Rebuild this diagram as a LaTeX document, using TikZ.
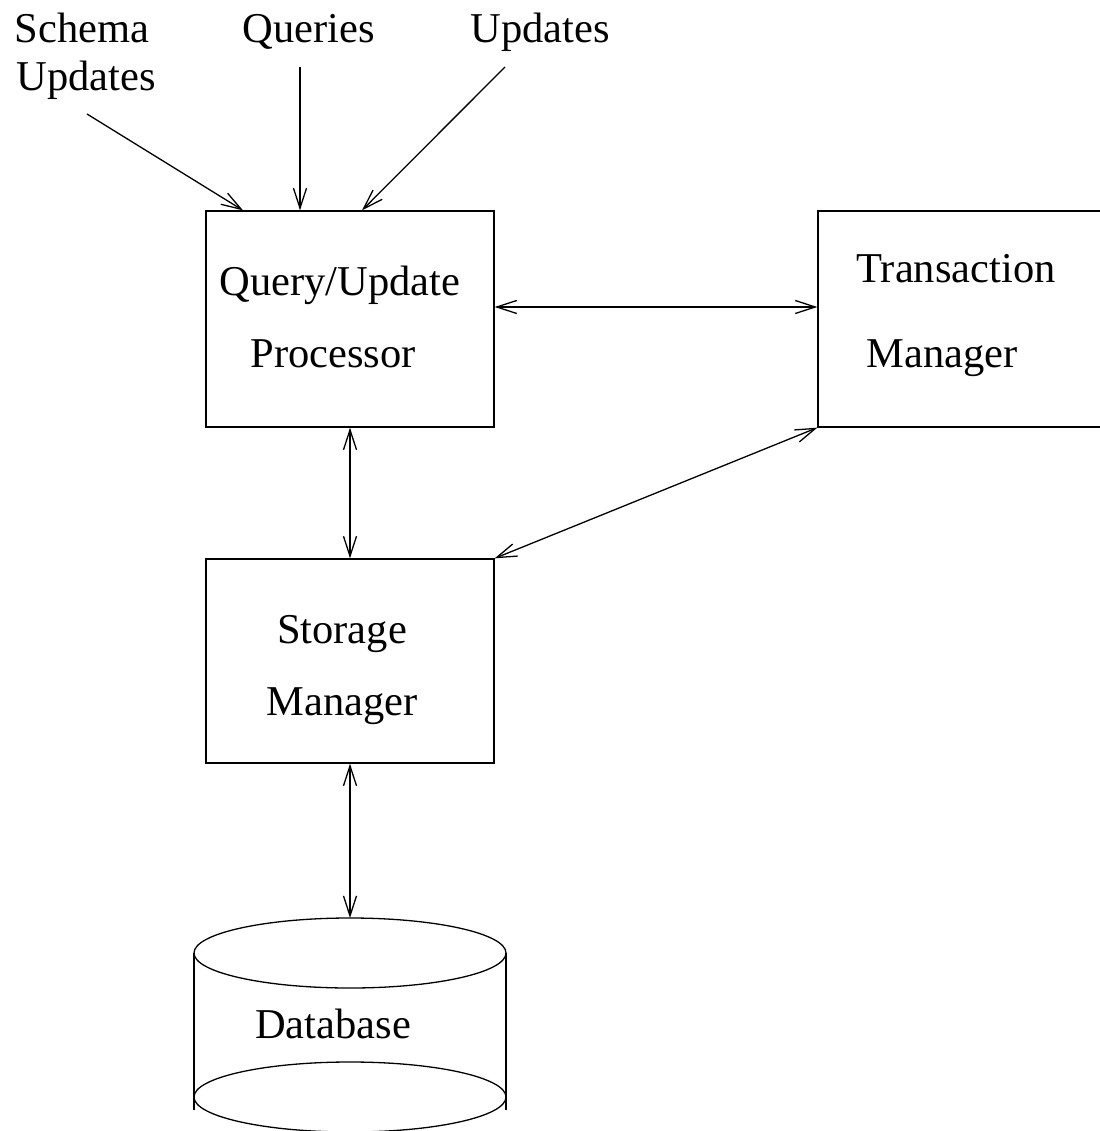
\documentclass[tikz,border=0pt]{standalone}
\usepackage{fontspec}
\setmainfont{Liberation Serif}
\usetikzlibrary{arrows.meta}
\begin{document}
\begin{tikzpicture}[x=1pt,y=-1pt,
  every node/.style={font=\fontsize{42.5}{50}\selectfont},
  lbl/.style={anchor=base, inner sep=0pt},
  boxnode/.style={draw, line width=1.3pt, inner sep=0pt, minimum width=#1, minimum height=216pt},
  conn/.style={line width=1.3pt, -{Straight Barb[length=20pt,width=13pt,line width=1.3pt]}},
  dconn/.style={line width=1.3pt, {Straight Barb[length=20pt,width=13pt,line width=1.3pt]}-{Straight Barb[length=20pt,width=13pt,line width=1.3pt]}}
]
\useasboundingbox (0,0) rectangle (1099,1131);
% boxes
\node[boxnode=288pt] (qp) at (350,319) {};
\node[boxnode=292pt] (tm) at (964,319) {};
\node[draw, line width=1.3pt, inner sep=0pt, minimum width=288pt, minimum height=204pt] (sm) at (350,661) {};
% database cylinder
\coordinate (dbtop) at (350,918);
\draw[line width=1.3pt] (350,953) ellipse [x radius=156, y radius=35];
\draw[line width=1.3pt] (350,1097) ellipse [x radius=156, y radius=35];
\draw[line width=1.3pt] (194,953) -- (194,1110) (506,953) -- (506,1110);
% labels
\node[lbl] (schema) at (82,43) {Schema};
\node[lbl] (schemaupd) at (86,91) {Updates};
\node[lbl] (queries) at (309,43) {Queries};
\node[lbl] (updates) at (540,43) {Updates};
\node[lbl] (qu) at (340,295) {Query/Update};
\node[lbl] (proc) at (333,367) {Processor};
\node[lbl] (trans) at (956,283) {Transaction};
\node[lbl] (tman) at (942,367) {Manager};
\node[lbl] (stor) at (342,643) {Storage};
\node[lbl] (sman) at (342,715) {Manager};
\node[lbl] (db) at (333,1038) {Database};
% input arrow start points
\coordinate (s1) at (87,114);
\coordinate (s2) at (300,67);
\coordinate (s3) at (505,67);
\draw[conn] (s1) -- ([xshift=-107pt]qp.north);
\draw[conn] (s2) -- ([xshift=-50pt]qp.north);
\draw[conn] (s3) -- ([xshift=12pt]qp.north);
% connections
\draw[dconn] ([yshift=12pt]qp.east) -- ([yshift=12pt]tm.west);
\draw[dconn] (qp.south) -- (sm.north);
\draw[dconn] (tm.south west) -- (sm.north east);
\draw[dconn] (sm.south) -- (dbtop);
\end{tikzpicture}
\end{document}
